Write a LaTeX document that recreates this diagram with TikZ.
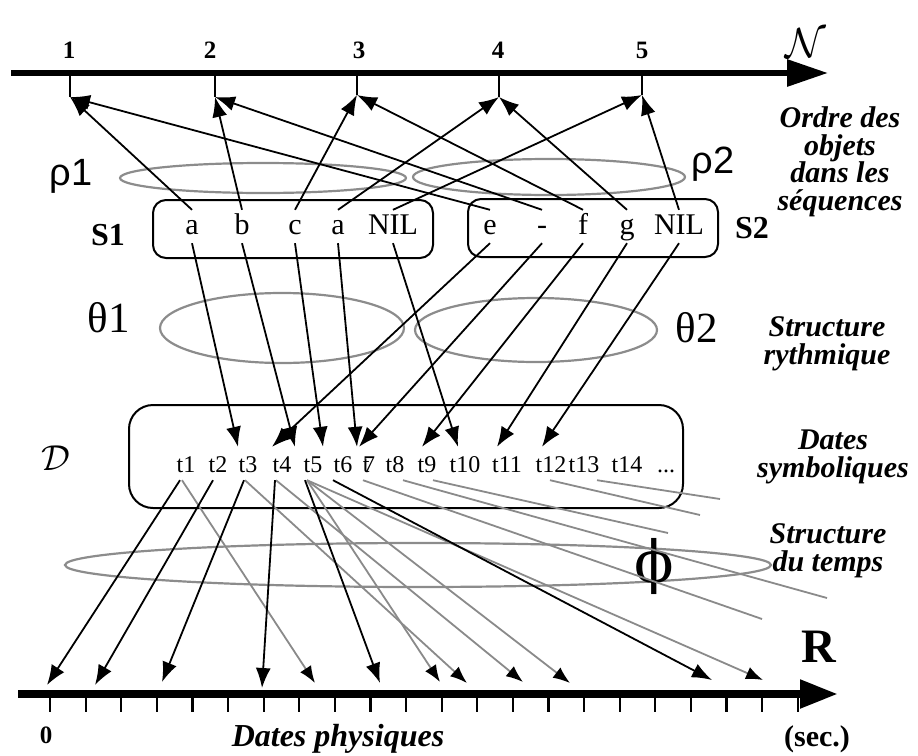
\RequirePackage{fix-cm}
\documentclass[tikz,border=0pt]{standalone}
\usepackage{fontspec}
\setmainfont{Liberation Serif}
\newfontfamily\sansgr{Liberation Sans}
\newfontfamily\phifont{DejaVu Serif}
\usetikzlibrary{arrows.meta}
\definecolor{lgray}{RGB}{138,138,138}
\definecolor{egray}{RGB}{140,140,140}
\begin{document}
\begin{tikzpicture}[x=1pt,y=-1pt,
  arr/.style={line width=1.8pt,-{Latex[length=20pt,width=15pt]}},
  garr/.style={line width=1.8pt,draw=lgray,-{Latex[length=17pt,width=13pt,color=black]}},
  gline/.style={line width=1.8pt,draw=lgray},
  ell/.style={line width=2.2pt,draw=egray},
  seqbox/.style={draw,line width=2pt,rounded corners=13pt,inner sep=0pt},
  elem/.style={inner xsep=1pt,inner ysep=3pt,text height=21pt,text depth=6pt,anchor=base,font=\fontsize{30}{32}\selectfont},
  tlab/.style={inner xsep=1pt,inner ysep=8pt,text height=17pt,text depth=0pt,anchor=base,font=\fontsize{24}{26}\selectfont},
  numlab/.style={inner sep=0pt,anchor=base,font=\fontsize{25}{27}\selectfont\bfseries},
  rlab/.style={inner sep=0pt,align=center},
  tick/.style={line width=2pt},
]
\useasboundingbox (0,0) rectangle (918,755);

% ellipses
\draw[ell] (263,178) ellipse [x radius=143pt, y radius=15pt];
\draw[ell] (549,177) ellipse [x radius=136pt, y radius=18pt];
\draw[ell] (282,328) ellipse [x radius=122pt, y radius=35pt];
\draw[ell] (536,330) ellipse [x radius=121pt, y radius=32pt];
\draw[ell] (418,565) ellipse [x radius=353pt, y radius=22pt];

% top axis
\coordinate (Nl) at (11,73);
\coordinate (Nr) at (828,73);
\draw[line width=6pt,-{Triangle[length=41pt,width=26pt]}] (Nl) -- (Nr);
\foreach \i/\x/\yb in {1/70/97,2/215/97,3/357/95,4/499/97,5/642/95}{
  \coordinate (n\i) at (\x,\yb);
  \draw[tick] (\x,76) -- (n\i);
}
\node[numlab] (l1) at (69,58) {1};
\node[numlab] (l2) at (210,58) {2};
\node[numlab] (l3) at (359,58) {3};
\node[numlab] (l4) at (498,58) {4};
\node[numlab] (l5) at (642,58) {5};
\node[inner sep=0pt] (Nlab) at (806,43) {\fontsize{42}{44}\selectfont$\mathcal{N}$};

% sequence boxes
\node[seqbox,minimum width=280pt,minimum height=58pt] (S1box) at (293,229) {};
\node[seqbox,minimum width=250pt,minimum height=58pt] (S2box) at (593,228) {};
\node[inner sep=0pt,anchor=base,font=\fontsize{32}{34}\selectfont\bfseries] (S1) at (108,245) {S1};
\node[inner sep=0pt,anchor=base,font=\fontsize{32}{34}\selectfont\bfseries] (S2) at (752,238) {S2};

\node[elem] (s1a) at (192,234) {a};
\node[elem] (s1b) at (242,234) {b};
\node[elem] (s1c) at (295,234) {c};
\node[elem] (s1d) at (338,234) {a};
\node[elem] (s1nil) at (393,234) {NIL};
\node[elem] (s2e) at (490,234) {e};
\node[elem] (s2dash) at (542,234) {-};
\node[elem] (s2f) at (583,234) {f};
\node[elem] (s2g) at (627,234) {g};
\node[elem] (s2nil) at (679,234) {NIL};

% greek labels
\node[inner sep=0pt,anchor=base,font=\sansgr\fontsize{38}{40}\selectfont] (rho1) at (71,185) {ρ1};
\node[inner sep=0pt,anchor=base,font=\sansgr\fontsize{38}{40}\selectfont] (rho2) at (713,173) {ρ2};
\node[inner sep=0pt,anchor=base,font=\fontsize{43}{45}\selectfont] (th1) at (109,332) {θ1};
\node[inner sep=0pt,anchor=base,font=\fontsize{43}{45}\selectfont] (th2) at (697,342) {θ2};
\node[inner sep=0pt] (phi) at (654,566) {\phifont\fontsize{58}{60}\selectfont ϕ};

% right labels
\node[rlab,font=\fontsize{30}{27.5}\selectfont\bfseries\itshape] (lab1) at (840,162) {Ordre des\\objets\\dans les\\séquences};
\node[rlab,font=\fontsize{30}{28.5}\selectfont\bfseries\itshape] (lab2) at (827,344) {Structure\\rythmique};
\node[rlab,font=\fontsize{30}{28.5}\selectfont\bfseries\itshape] (lab3) at (833,457) {Dates\\symboliques};
\node[rlab,font=\fontsize{30}{28.5}\selectfont\bfseries\itshape] (lab4) at (828,551) {Structure\\du temps};

% D box
\node[draw,line width=2pt,rounded corners=24pt,minimum width=554pt,minimum height=103pt,inner sep=0pt] (Dbox) at (406,456.5) {};
\node[inner sep=0pt] (Dlab) at (56,458) {\fontsize{36}{38}\selectfont$\mathcal{D}$};
\node[tlab] (t1) at (186,472) {t1};
\node[tlab] (t2) at (218,472) {t2};
\node[tlab] (t3) at (248,472) {t3};
\node[tlab] (t4) at (282,472) {t4};
\node[tlab] (t5) at (313,472) {t5};
\node[tlab] (t6) at (343,472) {t6};
\node[tlab] (t7) at (369,472) {t\kern-0.26em7};
\node[tlab] (t8) at (395,472) {t8};
\node[tlab] (t9) at (427,472) {t9};
\node[tlab] (t10) at (465,472) {t10};
\node[tlab] (t11) at (507,472) {t11};
\node[tlab] (t12) at (551,472) {t12};
\node[tlab] (t13) at (584,472) {t13};
\node[tlab] (t14) at (627,472) {t14};
\node[tlab] (tdots) at (666,472) {...};

% bottom axis
\coordinate (Rl) at (18,694);
\coordinate (Rr) at (838,694);
\draw[line width=8pt,-{Triangle[length=38pt,width=27pt]}] (Rl) -- (Rr);
\foreach \k in {0,...,21}{
  \draw[line width=2.2pt] ({50+35.6*\k},698) -- ({50+35.6*\k},712);
}
\node[inner sep=0pt,anchor=base,font=\fontsize{25}{27}\selectfont\bfseries] (zero) at (46,743) {0};
\node[inner sep=0pt,anchor=base,font=\fontsize{48}{50}\selectfont\bfseries] (Rlab) at (819,662) {R};
\node[inner sep=0pt,anchor=base,font=\fontsize{30}{32}\selectfont\bfseries] (sec) at (817,746) {(sec.)};
\node[inner sep=0pt,anchor=base,font=\fontsize{32}{34}\selectfont\bfseries\itshape] (dphys) at (338,746) {Dates physiques};

% arrows: sequences -> order axis
\draw[arr] (s1a.north) -- (n1);
\draw[arr] (s2e.north) -- (n1);
\draw[arr] (s1b.north) -- (n2);
\draw[arr] (s2dash.north) -- (n2);
\draw[arr] (s1c.north) -- (n3);
\draw[arr] (s2f.north) -- (n3);
\draw[arr] (s1d.north) -- (n4);
\draw[arr] (s2g.north) -- (n4);
\draw[arr] (s1nil.north) -- (n5);
\draw[arr] (s2nil.north) -- (n5);

% arrows: sequences -> symbolic dates
\draw[arr] (s1a.south) -- ([xshift=-10pt]t3.north);
\draw[arr] (s1b.south) -- ([xshift=13pt]t4.north);
\draw[arr] (s1c.south) -- ([xshift=10pt]t5.north);
\draw[arr] (s1d.south) -- ([xshift=14pt]t6.north);
\draw[arr] (s1nil.south) -- ([xshift=-7pt]t10.north);
\draw[arr] (s2e.south) -- ([xshift=-10pt]t4.north);
\draw[arr] (s2dash.south) -- ([xshift=-10pt]t7.north);
\draw[arr] (s2f.south) -- ([xshift=-5pt]t9.north);
\draw[arr] (s2g.south) -- ([xshift=-10pt]t11.north);
\draw[arr] (s2nil.south) -- ([xshift=-9pt]t12.north);

% arrow ends on the physical axis
\coordinate (r1) at (47,685);
\coordinate (r2) at (95,685);
\coordinate (r3) at (162,682);
\coordinate (r4) at (262,688);
\coordinate (r5) at (380,683);
\coordinate (r6) at (712,680);
\coordinate (g1) at (315,683);
\coordinate (g2) at (467,683);
\coordinate (g3) at (523,682);
\coordinate (g4) at (440,682);
\coordinate (g5) at (570,683);
\coordinate (g6) at (763,680);
\coordinate (e7) at (762,619);
\coordinate (e8) at (827,598);
\coordinate (e9) at (668,533);
\coordinate (e12) at (700,515);
\coordinate (e13) at (720,499);

% gray lines without heads
\draw[gline] ([xshift=-6pt]t7.south) -- (e7);
\draw[gline] ([xshift=8pt]t8.south) -- (e8);
\draw[gline] ([xshift=6pt]t9.south) -- (e9);
\draw[gline] ([xshift=-1pt]t12.south) -- (e12);
\draw[gline] ([xshift=13pt]t13.south) -- (e13);

% gray arrows
\draw[garr] ([xshift=-4pt]t1.south) -- (g1);
\draw[garr] ([xshift=-3pt]t3.south) -- (g2);
\draw[garr] ([xshift=-6pt]t4.south) -- (g3);
\draw[garr] ([xshift=-6pt]t5.south) -- (g4);
\draw[garr] ([xshift=-6pt]t5.south) -- (g5);
\draw[garr] ([xshift=-6pt]t5.south) -- (g6);

% black arrows
\draw[arr] ([xshift=-6pt]t1.south) -- (r1);
\draw[arr] ([xshift=-5pt]t2.south) -- (r2);
\draw[arr] ([xshift=-4pt]t3.south) -- (r3);
\draw[arr] ([xshift=-7pt]t4.south) -- (r4);
\draw[arr] ([xshift=-8pt]t5.south) -- (r5);
\draw[arr] ([xshift=-10pt]t6.south) -- (r6);
\end{tikzpicture}
\end{document}
